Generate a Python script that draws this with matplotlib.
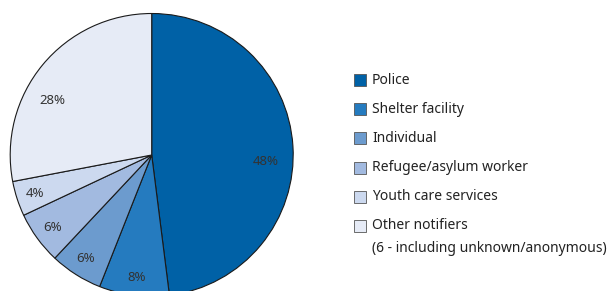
import numpy as np
import matplotlib
matplotlib.use("Agg")
from matplotlib import pyplot as plt
from matplotlib.patches import Rectangle

plt.rcParams["font.family"] = ["Noto Sans", "DejaVu Sans"]

# data
labels = [
    "Police",
    "Shelter facility",
    "Individual",
    "Refugee/asylum worker",
    "Youth care services",
    "Other notifiers\n(6 - including unknown/anonymous)",
]
shares = [48, 8, 6, 6, 4, 28]
colors = ["#0061a6", "#257bbf", "#6c9bce", "#a2bae0", "#ccd9ef", "#e6ebf6"]

# per-label placement (fraction of radius, angle shift in degrees)
label_dist = [0.81, 0.87, 0.87, 0.87, 0.87, 0.80]
label_shift = [-7, 0, 0, 0, 0, 11]

W, H = 608, 291
fig = plt.figure(figsize=(W / 100, H / 100), dpi=100)
ax = fig.add_axes([0, 0, 1, 1])

cx, cy, r = 151.7, H - 155, 141.5
wedges, _ = ax.pie(
    shares,
    colors=colors,
    startangle=90,
    counterclock=False,
    center=(cx, cy),
    radius=r,
    frame=True,
    wedgeprops=dict(edgecolor="#1a1a1a", linewidth=0.8),
)
ax.set_xlim(0, W)
ax.set_ylim(0, H)
ax.axis("off")

for w, s, d, sh in zip(wedges, shares, label_dist, label_shift):
    mid = np.deg2rad((w.theta1 + w.theta2) / 2 + sh)
    ax.text(cx + d * r * np.cos(mid), cy + d * r * np.sin(mid), f"{s}%",
            ha="center", va="center", fontsize=9.5, color="#333333")

# legend drawn by hand so the swatch lines up with the first text line
y0, step = 80, 29.2
for i, (lab, col) in enumerate(zip(labels, colors)):
    yy = y0 + i * step
    fig.patches.append(Rectangle((354 / W, 1 - (yy + 6) / H), 12 / W, 12 / H,
                                 transform=fig.transFigure, facecolor=col,
                                 edgecolor="#555555", linewidth=0.6))
    if "\n" in lab:
        fig.text(372 / W, 1 - (yy - 8) / H, lab, ha="left", va="top",
                 fontsize=10, color="#222222", linespacing=1.75)
    else:
        fig.text(372 / W, 1 - yy / H, lab, ha="left", va="center",
                 fontsize=10, color="#222222")

fig.savefig("out.png", dpi=100)
